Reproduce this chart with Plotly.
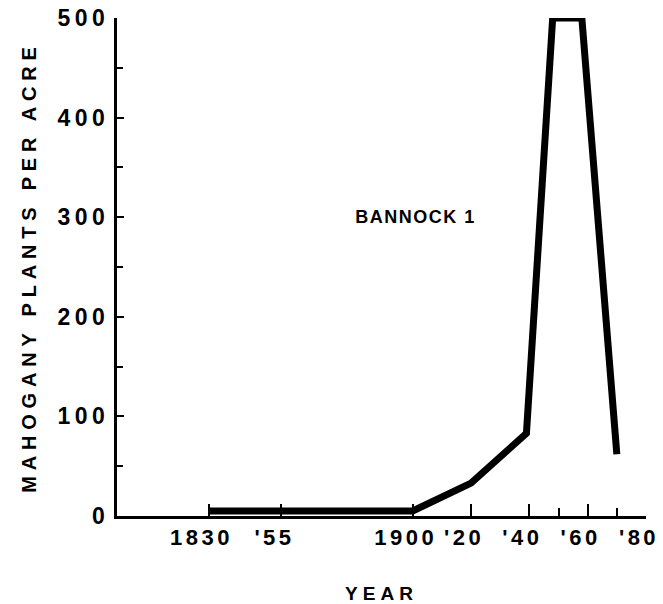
import plotly.graph_objects as go

# Data
years = [1830, 1855, 1900, 1920, 1939, 1948, 1958, 1970]
plants_per_acre = [5, 5, 5, 33, 83, 500, 500, 62]

x_tick_vals = [1830, 1855, 1900, 1920, 1940, 1960, 1980]
x_tick_text = ["1830", "'55", "1900", "'20", "'40", "'60", "'80"]
x_minor_vals = [1950, 1970]
y_tick_vals = [0, 100, 200, 300, 400, 500]

FONT = "Liberation Sans, Arial, sans-serif"

fig = go.Figure()
fig.add_trace(go.Scatter(
    x=years, y=plants_per_acre, mode="lines",
    line=dict(color="black", width=7),
    cliponaxis=False, showlegend=False, hoverinfo="skip",
))

fig.add_annotation(
    x=1901, y=300, xref="x", yref="y", text="BANNOCK 1", showarrow=False,
    font=dict(family=FONT, size=18, color="black", weight="bold"),
)

fig.update_layout(
    width=663, height=604,
    margin=dict(l=117, r=17, t=18, b=88),
    paper_bgcolor="white", plot_bgcolor="white",
    font=dict(family=FONT, color="black", weight="bold"),
    xaxis=dict(
        range=[1798.6, 1980], showgrid=False, zeroline=False, automargin=False,
        showline=True, linecolor="black", linewidth=3,
        ticks="inside", ticklen=12, tickwidth=2, tickcolor="black",
        tickmode="array", tickvals=x_tick_vals, ticktext=x_tick_text,
        ticklabelshift=-7,
        tickfont=dict(family=FONT, size=22, color="black", weight="bold"),
        minor=dict(tickmode="array", tickvals=x_minor_vals, ticks="inside",
                   ticklen=8, tickwidth=2, tickcolor="black"),
        title=dict(text="YEAR", standoff=44,
                   font=dict(family=FONT, size=19, color="black", weight="bold")),
    ),
    yaxis=dict(
        range=[0, 500], showgrid=False, zeroline=False, automargin=False,
        showline=True, linecolor="black", linewidth=3,
        ticks="inside", ticklen=7, tickwidth=2, tickcolor="black",
        tickmode="array", tickvals=y_tick_vals,
        tickfont=dict(family=FONT, size=23, color="black", weight="bold"),
        minor=dict(dtick=50, ticks="inside", ticklen=6, tickwidth=2, tickcolor="black"),
        title=dict(text="MAHOGANY PLANTS PER ACRE", standoff=30,
                   font=dict(family=FONT, size=20, color="black", weight="bold")),
    ),
)

post = """
document.body.style.margin = '0';
document.body.style.overflow = 'hidden';
var gd = document.getElementById('{plot_id}');
function sp(){
  gd.querySelectorAll('.xtick text').forEach(function(t){t.style.letterSpacing='3.5px';});
  gd.querySelectorAll('.ytick text').forEach(function(t){t.style.letterSpacing='4.5px';});
  gd.querySelectorAll('.g-ytitle text').forEach(function(t){t.style.letterSpacing='5.8px';});
  gd.querySelectorAll('.g-xtitle text').forEach(function(t){t.style.letterSpacing='5px';});
  gd.querySelectorAll('.annotation-text').forEach(function(t){t.style.letterSpacing='1.5px';});
}
sp();
gd.on('plotly_afterplot', sp);
"""

fig.write_html("out.html", post_script=post, config={"displayModeBar": False})
